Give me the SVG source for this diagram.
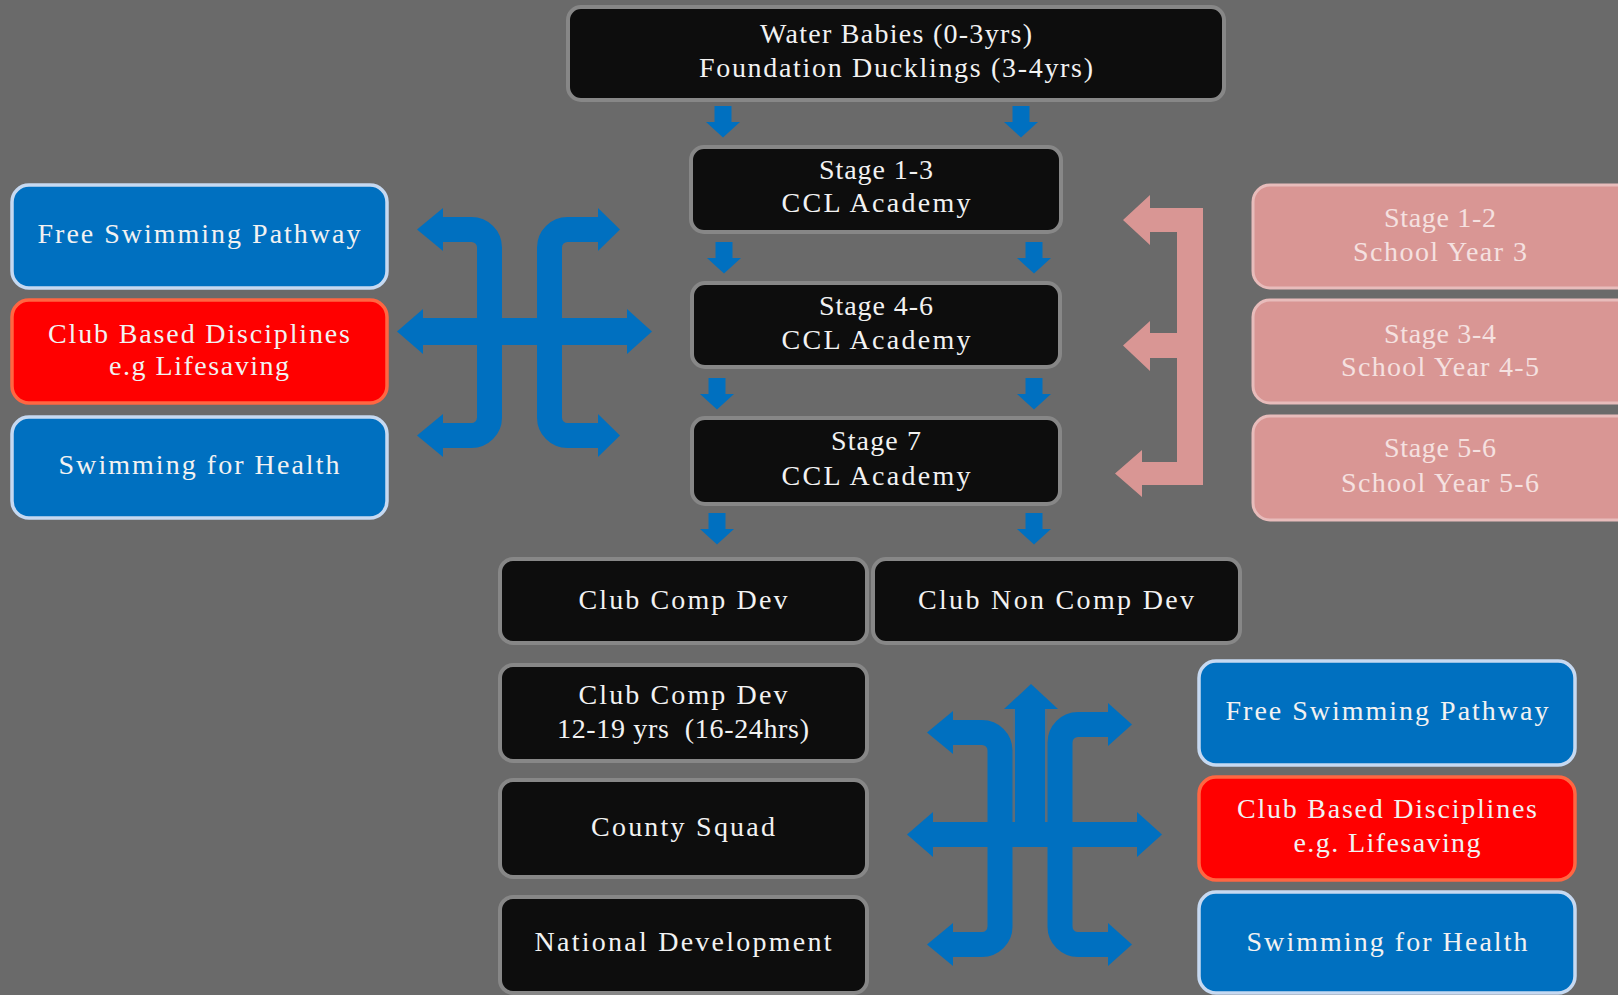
<svg xmlns="http://www.w3.org/2000/svg" width="1618" height="995" viewBox="0 0 1618 995">
<defs>
<style>
.bk{fill:#0d0d0d;stroke:#878787;stroke-width:4}
.bl{fill:#0070C0;stroke:#C6D9F1;stroke-width:3.5}
.rd{fill:#FF0000;stroke:#FF6642;stroke-width:3.5}
.pk{fill:#D99694;stroke:#E8BCBB;stroke-width:3}
text{font-family:"Liberation Serif","DejaVu Serif",serif;font-size:28px;text-anchor:middle;fill:#F2F2F2}
.pt{fill:#F5E1E0}
.sh{fill:none;stroke:#0070C0;stroke-width:25}
.bf{fill:#0070C0}
.pf{fill:#D99694}
</style>
<path id="da" d="M-8.5,0 H8.5 V16 H17 L0,31.5 L-17,16 H-8.5 Z" fill="#0070C0"/>
</defs>
<rect width="1618" height="995" fill="#6A6A6A"/>

<g id="connectors">
  <use href="#da" x="723" y="106"/>
  <use href="#da" x="1021" y="106"/>
  <use href="#da" x="724" y="242"/>
  <use href="#da" x="1034" y="242"/>
  <use href="#da" x="717" y="378"/>
  <use href="#da" x="1034" y="378"/>
  <use href="#da" x="717" y="513"/>
  <use href="#da" x="1034" y="513"/>

  <g id="left-symbol">
    <path class="bf" d="M397,331.5 L423,309 L423,318 L627,318 L627,309 L652,331.5 L627,354 L627,345 L423,345 L423,354 Z"/>
    <path class="sh" d="M440,229.5 H471.5 A18,18 0 0 1 489.5,247.5 V417.5 A18,18 0 0 1 471.5,435.5 H440"/>
    <path class="sh" d="M601,229.5 H567.5 A18,18 0 0 0 549.5,247.5 V417.5 A18,18 0 0 0 567.5,435.5 H601"/>
    <path class="bf" d="M417,229.5 L443,208 L443,251 Z"/>
    <path class="bf" d="M417,435.5 L443,414 L443,457 Z"/>
    <path class="bf" d="M620,229.5 L598,208 L598,251 Z"/>
    <path class="bf" d="M620,435.5 L598,414 L598,457 Z"/>
  </g>

  <g id="right-symbol">
    <path class="pf" d="M1177,208 H1203 V485 H1142 V497 L1115,473.5 L1142,450 V462 H1177 V358 H1150 V371 L1123,345.5 L1150,321 V333 H1177 V232 H1150 V245 L1123,220 L1150,195 V208 Z"/>
  </g>

  <g id="bottom-symbol">
    <path class="bf" d="M907,834.5 L933,812 L933,822 L1137,822 L1137,812 L1162,834.5 L1137,857 L1137,847 L933,847 L933,857 Z"/>
    <path class="sh" d="M950,732.5 H982 A18,18 0 0 1 1000,750.5 V926.5 A18,18 0 0 1 982,944.5 H950" stroke-width="26"/>
    <path class="sh" d="M1111,724.5 H1078 A18,18 0 0 0 1060,742.5 V926.5 A18,18 0 0 0 1078,944.5 H1111" stroke-width="26"/>
    <rect x="1015" y="707" width="30" height="120" fill="#0070C0"/>
    <path class="bf" d="M1031,684 L1058,709 L1004,709 Z"/>
    <path class="bf" d="M927,732.5 L953,711 L953,754 Z"/>
    <path class="bf" d="M927,944.5 L953,923 L953,966 Z"/>
    <path class="bf" d="M1132,724.5 L1108,703 L1108,746 Z"/>
    <path class="bf" d="M1132,944.5 L1108,923 L1108,966 Z"/>
    <line x1="1014" y1="709" x2="1014" y2="822" stroke="#5a6f80" stroke-width="1.5"/>
    <line x1="1046" y1="709" x2="1046" y2="822" stroke="#5a6f80" stroke-width="1.5"/>
  </g>
</g>

<g id="n-top"><rect class="bk" x="568" y="7" width="656" height="93" rx="13"/>
<text x="896" y="43" textLength="272" lengthAdjust="spacing">Water Babies (0-3yrs)</text>
<text x="896" y="77" textLength="394" lengthAdjust="spacing">Foundation Ducklings (3-4yrs)</text></g>

<g id="n-stage13"><rect class="bk" x="691" y="147" width="370" height="85" rx="13"/>
<text x="876" y="179" textLength="114" lengthAdjust="spacing">Stage 1-3</text>
<text x="876" y="212" textLength="189" lengthAdjust="spacing">CCL Academy</text></g>

<g id="n-stage46"><rect class="bk" x="692" y="283" width="368" height="84" rx="13"/>
<text x="876" y="315" textLength="114" lengthAdjust="spacing">Stage 4-6</text>
<text x="876" y="349" textLength="189" lengthAdjust="spacing">CCL Academy</text></g>

<g id="n-stage7"><rect class="bk" x="692" y="418" width="368" height="86" rx="13"/>
<text x="876" y="450" textLength="90" lengthAdjust="spacing">Stage 7</text>
<text x="876" y="485" textLength="189" lengthAdjust="spacing">CCL Academy</text></g>

<g id="n-clubcomp"><rect class="bk" x="500" y="559" width="367" height="84" rx="13"/>
<text x="683" y="609" textLength="209" lengthAdjust="spacing">Club Comp Dev</text></g>

<g id="n-clubnoncomp"><rect class="bk" x="873" y="559" width="367" height="84" rx="13"/>
<text x="1056" y="609" textLength="276" lengthAdjust="spacing">Club Non Comp Dev</text></g>

<g id="n-clubcomp1219"><rect class="bk" x="500" y="665" width="367" height="96" rx="13"/>
<text x="683" y="704" textLength="209" lengthAdjust="spacing">Club Comp Dev</text>
<text x="683" y="738" textLength="252" lengthAdjust="spacing" xml:space="preserve">12-19 yrs  (16-24hrs)</text></g>

<g id="n-county"><rect class="bk" x="500" y="780" width="367" height="97" rx="13"/>
<text x="683" y="836" textLength="184" lengthAdjust="spacing">County Squad</text></g>

<g id="n-national"><rect class="bk" x="500" y="897" width="367" height="96" rx="13"/>
<text x="683" y="951" textLength="297" lengthAdjust="spacing">National Development</text></g>

<g id="n-left-free"><rect class="bl" x="12" y="185" width="375" height="103" rx="17"/>
<text x="199" y="243" textLength="323" lengthAdjust="spacing">Free Swimming Pathway</text></g>

<g id="n-left-club"><rect class="rd" x="12" y="300" width="375" height="103" rx="17"/>
<text x="199" y="343" textLength="302" lengthAdjust="spacing">Club Based Disciplines</text>
<text x="199" y="375" textLength="180" lengthAdjust="spacing">e.g Lifesaving</text></g>

<g id="n-left-health"><rect class="bl" x="12" y="417" width="375" height="101" rx="17"/>
<text x="199" y="474" textLength="281" lengthAdjust="spacing">Swimming for Health</text></g>

<g id="n-pink-12"><rect class="pk" x="1253" y="185" width="400" height="103" rx="17"/>
<text class="pt" x="1440" y="227" textLength="112" lengthAdjust="spacing">Stage 1-2</text>
<text class="pt" x="1440" y="261" textLength="174" lengthAdjust="spacing">School Year 3</text></g>

<g id="n-pink-34"><rect class="pk" x="1253" y="300" width="400" height="103" rx="17"/>
<text class="pt" x="1440" y="343" textLength="112" lengthAdjust="spacing">Stage 3-4</text>
<text class="pt" x="1440" y="376" textLength="198" lengthAdjust="spacing">School Year 4-5</text></g>

<g id="n-pink-56"><rect class="pk" x="1253" y="416" width="400" height="104" rx="17"/>
<text class="pt" x="1440" y="457" textLength="112" lengthAdjust="spacing">Stage 5-6</text>
<text class="pt" x="1440" y="492" textLength="198" lengthAdjust="spacing">School Year 5-6</text></g>

<g id="n-right-free"><rect class="bl" x="1199" y="661" width="376" height="104" rx="17"/>
<text x="1387" y="720" textLength="323" lengthAdjust="spacing">Free Swimming Pathway</text></g>

<g id="n-right-club"><rect class="rd" x="1199" y="777" width="376" height="103" rx="17"/>
<text x="1387" y="818" textLength="300" lengthAdjust="spacing">Club Based Disciplines</text>
<text x="1387" y="852" textLength="187" lengthAdjust="spacing">e.g. Lifesaving</text></g>

<g id="n-right-health"><rect class="bl" x="1199" y="892" width="376" height="101" rx="17"/>
<text x="1387" y="951" textLength="281" lengthAdjust="spacing">Swimming for Health</text></g>
</svg>
